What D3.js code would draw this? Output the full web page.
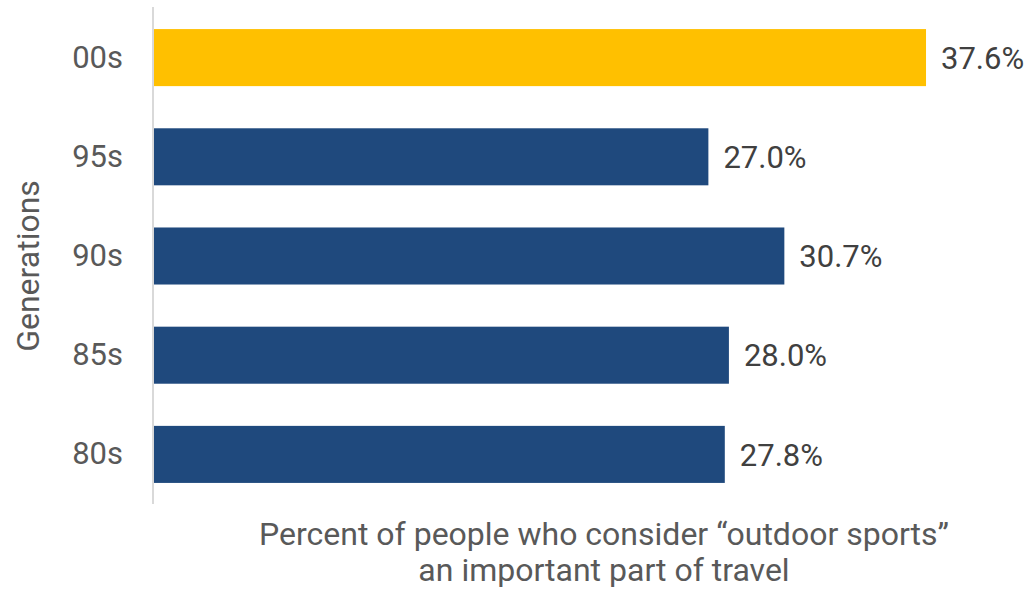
<!DOCTYPE html>
<html>
<head>
<meta charset="utf-8">
<script src="https://cdn.jsdelivr.net/npm/d3@7"></script>
<style>
  html, body { margin: 0; padding: 0; background: #ffffff; }
  svg { display: block; font-family: Roboto, "Noto Sans", sans-serif; }
</style>
</head>
<body>
<svg id="chart" width="1031" height="590"></svg>
<script>
// Share of each generation that considers outdoor sports an important part of travel
const generations = ["00s", "95s", "90s", "85s", "80s"];
const percentValues = [37.6, 27.0, 30.7, 28.0, 27.8];
const barColors = ["#FFC000", "#1F497D", "#1F497D", "#1F497D", "#1F497D"];
const xTitleLines = ["Percent of people who consider \u201Coutdoor sports\u201D", "an important part of travel"];
const yTitle = "Generations";

const data = generations.map((g, i) => ({ gen: g, value: percentValues[i], color: barColors[i] }));

const svg = d3.select("#chart");

const x = d3.scaleLinear().domain([0, 40]).range([154, 975.3]);
const y = d3.scaleBand().domain(generations).range([8, 504])
  .paddingInner(0.425).paddingOuter(0.2125);

// Bars
svg.append("g").selectAll("rect")
  .data(data)
  .join("rect")
  .attr("x", x(0))
  .attr("y", d => y(d.gen))
  .attr("width", d => x(d.value) - x(0))
  .attr("height", y.bandwidth())
  .attr("fill", d => d.color);

// Category axis (line only, labels to the left)
const yAxis = svg.append("g")
  .attr("transform", `translate(${x(0) - 1},0)`)
  .call(d3.axisLeft(y).tickSize(0).tickPadding(30));
yAxis.select(".domain").attr("stroke", "#d9d9d9").attr("stroke-width", 2)
  .attr("d", `M0,${y.range()[0] - 1}V${y.range()[1]}`);
yAxis.selectAll(".tick text")
  .attr("font-size", 31)
  .attr("font-family", "Roboto, sans-serif")
  .attr("fill", "#595959");

// Value labels
svg.append("g").selectAll("text")
  .data(data)
  .join("text")
  .attr("x", d => x(d.value) + 15)
  .attr("y", d => y(d.gen) + y.bandwidth() / 2)
  .attr("dy", "0.36em")
  .attr("font-size", 31)
  .attr("fill", "#404040")
  .text(d => d.value.toFixed(1) + "%");

// Axis titles
const xt = svg.append("text")
  .attr("text-anchor", "middle")
  .attr("font-size", 32)
  .attr("fill", "#595959");
xt.selectAll("tspan")
  .data(xTitleLines)
  .join("tspan")
  .attr("x", 604)
  .attr("y", (d, i) => 545 + i * 36)
  .text(d => d);

svg.append("text")
  .attr("transform", `translate(39,${(y.range()[0] + y.range()[1]) / 2 + 10}) rotate(-90)`)
  .attr("text-anchor", "middle")
  .attr("font-size", 32)
  .attr("fill", "#595959")
  .text(yTitle);
</script>
</body>
</html>
